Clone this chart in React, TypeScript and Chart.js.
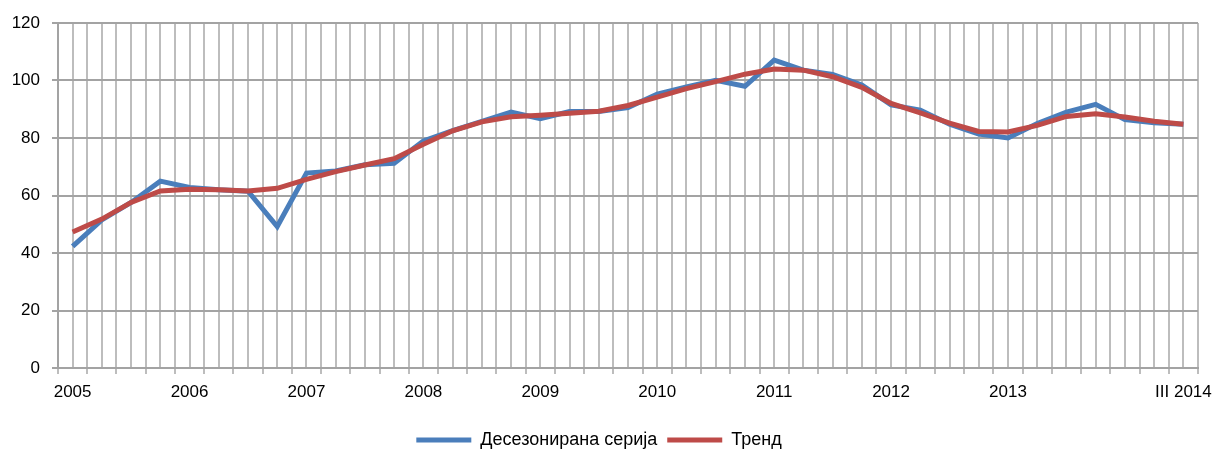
import React, { useEffect, useRef } from "react";
import { Chart, registerables } from "chart.js";

Chart.register(...registerables);

const years = ["2005", "2006", "2007", "2008", "2009", "2010", "2011", "2012", "2013", "2014"];
const quarters = ["I", "II", "III", "IV"];
const categories: string[] = [];
years.forEach((y) => quarters.forEach((q) => categories.push(q + " " + y)));
categories.splice(39); // I 2005 .. III 2014

const seasonallyAdjusted = [
  42.3, 51.5, 57.6, 65.0, 62.8, 62.0, 61.5, 49.2, 67.8, 68.5,
  70.7, 71.2, 79.0, 82.6, 85.8, 89.0, 86.7, 89.2, 89.2, 90.6,
  95.3, 97.8, 100.1, 98.0, 107.1, 103.6, 102.1, 98.4, 91.5, 89.7,
  84.8, 81.4, 80.0, 85.0, 89.0, 91.7, 86.4, 85.3, 84.8,
];
const trend = [
  47.3, 51.8, 57.6, 61.6, 62.2, 62.0, 61.6, 62.5, 65.6, 68.3,
  70.6, 72.8, 77.8, 82.5, 85.6, 87.4, 87.9, 88.6, 89.3, 91.3,
  94.2, 97.2, 99.6, 102.2, 104.0, 103.6, 101.3, 97.6, 92.0, 88.7,
  85.2, 82.3, 82.1, 84.4, 87.5, 88.4, 87.3, 85.8, 84.8,
];
const seriesNames = ["Десезонирана серија", "Тренд"];
const yTicks = [0, 20, 40, 60, 80, 100, 120];
const labelledYears = ["2005", "2006", "2007", "2008", "2009", "2010", "2011", "2012", "2013"];

const FONT = "'Liberation Sans', Arial, sans-serif";
const BLUE = "#4A7EBB";
const RED = "#BE4B48";
const GRID_X = "#BDBDBD";
const GRID_Y = "#A3A3A3";

function tickLabel(index: number): string {
  const c = categories[index];
  if (index === categories.length - 1) return c;
  const [q, y] = c.split(" ");
  return q === "I" && labelledYears.includes(y) ? y : "";
}

export default function App() {
  const ref = useRef<HTMLCanvasElement | null>(null);

  useEffect(() => {
    if (!ref.current) return;
    const chart = new Chart(ref.current, {
      type: "line",
      data: {
        labels: categories,
        datasets: [
          {
            label: seriesNames[0],
            data: seasonallyAdjusted,
            borderColor: BLUE,
            backgroundColor: BLUE,
            borderWidth: 5,
            pointRadius: 0,
            tension: 0,
            order: 2,
            xAxisID: "x",
          },
          {
            label: seriesNames[1],
            data: trend,
            borderColor: RED,
            backgroundColor: RED,
            borderWidth: 5,
            pointRadius: 0,
            tension: 0,
            order: 1,
            xAxisID: "x",
          },
        ],
      },
      options: {
        animation: false,
        responsive: false,
        maintainAspectRatio: false,
        layout: { padding: { top: 23, right: 17, left: 0, bottom: -9 } },
        plugins: {
          tooltip: { enabled: false },
          legend: {
            position: "bottom",
            labels: {
              boxWidth: 55,
              boxHeight: 5,
              padding: 10,
              color: "#000",
              font: { family: FONT, size: 18 },
              generateLabels: (ch: any) =>
                ch.data.datasets.map((ds: any, i: number) => ({
                  text: ds.label,
                  fillStyle: ds.borderColor,
                  strokeStyle: ds.borderColor,
                  lineWidth: 0,
                  hidden: false,
                  datasetIndex: i,
                  fontColor: "#000",
                })),
            },
          },
        },
        scales: {
          x: {
            type: "category",
            position: "bottom",
            offset: true,
            grid: {
              offset: true,
              color: GRID_X,
              lineWidth: 2,
              tickLength: 6,
              drawOnChartArea: true,
            },
            border: { color: GRID_Y, width: 2 },
            ticks: {
              autoSkip: false,
              maxRotation: 0,
              minRotation: 0,
              padding: 8,
              color: "#000",
              font: { family: FONT, size: 17 },
              callback: (_v: any, i: number) => tickLabel(i),
            },
            afterFit: (s: any) => {
              s.height = 53;
              s.paddingRight = 0;
              s.paddingLeft = 0;
            },
          },
          x2: {
            type: "category",
            position: "top",
            labels: categories,
            offset: true,
            grid: { offset: false, color: GRID_X, lineWidth: 2, drawTicks: false },
            border: { display: false },
            ticks: { display: false },
            afterFit: (s: any) => {
              s.height = 0;
              s.paddingRight = 0;
              s.paddingLeft = 0;
            },
          },
          y: {
            min: 0,
            max: 120,
            afterBuildTicks: (s: any) => {
              s.ticks = yTicks.map((v) => ({ value: v }));
            },
            grid: { color: GRID_Y, lineWidth: 2, tickLength: 6 },
            border: { color: GRID_Y, width: 2 },
            ticks: {
              padding: 12,
              color: "#000",
              font: { family: FONT, size: 17 },
            },
            afterFit: (s: any) => {
              s.width = 58;
            },
          },
        },
      },
    });
    return () => chart.destroy();
  }, []);

  return (
    <div style={{ position: "absolute", left: 0, top: 0, width: 1215, height: 450, background: "#fff" }}>
      <canvas ref={ref} width={1215} height={450} style={{ display: "block" }} />
    </div>
  );
}
